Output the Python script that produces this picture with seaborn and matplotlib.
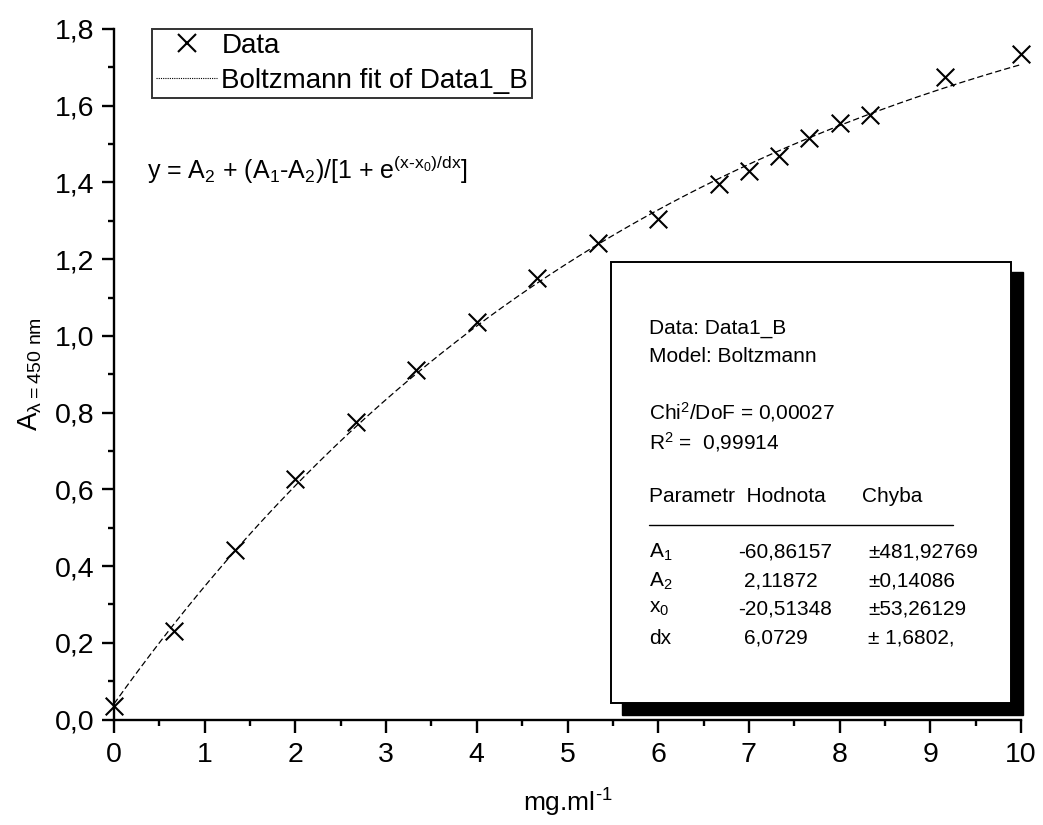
import numpy as np
import pandas as pd
import matplotlib
matplotlib.use("Agg")
import matplotlib.pyplot as plt
from matplotlib.patches import Rectangle
from matplotlib.lines import Line2D
from matplotlib.ticker import MultipleLocator, FuncFormatter
import seaborn as sns

# measured points
conc = [0.0, 0.667, 1.333, 2.0, 2.667, 3.333, 4.0, 4.667, 5.333, 6.0,
        6.667, 7.0, 7.333, 7.667, 8.0, 8.333, 9.167, 10.0]
absorb = [0.035, 0.231, 0.441, 0.626, 0.776, 0.912, 1.036, 1.150, 1.242, 1.306,
          1.395, 1.431, 1.468, 1.517, 1.555, 1.575, 1.675, 1.736]

# Boltzmann fit parameters (as printed in the box)
param_names = [r"A$_1$", r"A$_2$", r"x$_0$", "dx"]
param_values = [-60.86157, 2.11872, -20.51348, 6.0729]
param_value_txt = ["-60,86157", "2,11872", "-20,51348", "6,0729"]
param_error_txt = ["\u00b1481,92769", "\u00b10,14086", "\u00b153,26129", "\u00b1 1,6802,"]

W, H = 1043, 825

sns.set_theme(style="ticks")
plt.rcParams["font.family"] = ["Liberation Sans", "DejaVu Sans"]
plt.rcParams["mathtext.default"] = "regular"
plt.rcParams["text.color"] = "black"
plt.rcParams["axes.labelcolor"] = "black"

fig = plt.figure(figsize=(W / 100, H / 100), dpi=100)
ax = fig.add_axes([114 / W, 1 - 719.5 / H, (1021 - 114) / W, (719.5 - 29) / H])

df = pd.DataFrame({"x": conc, "y": absorb})

A1, A2, x0, dx = param_values
xf = np.linspace(0, 10, 300)
fit = pd.DataFrame({"x": xf, "y": A2 + (A1 - A2) / (1 + np.exp((xf - x0) / dx))})

sns.lineplot(data=fit, x="x", y="y", ax=ax, color="black", linewidth=0.9,
             linestyle=(0, (5, 2.5)), zorder=2)
sns.scatterplot(data=df, x="x", y="y", ax=ax, marker="x", s=160, color="black",
                linewidth=1.5, zorder=3, clip_on=False)

ax.set_xlim(0, 10)
ax.set_ylim(0, 1.8)
ax.xaxis.set_major_locator(MultipleLocator(1))
ax.xaxis.set_minor_locator(MultipleLocator(0.5))
ax.yaxis.set_major_locator(MultipleLocator(0.2))
ax.yaxis.set_minor_locator(MultipleLocator(0.1))
ax.yaxis.set_major_formatter(FuncFormatter(lambda v, p: f"{v:.1f}".replace(".", ",")))
ax.xaxis.set_major_formatter(FuncFormatter(lambda v, p: f"{v:.0f}"))

sns.despine(ax=ax)
for s in ["left", "bottom"]:
    ax.spines[s].set_linewidth(1.7)
    ax.spines[s].set_color("black")
ax.tick_params(which="major", direction="out", length=9, width=1.7, labelsize=20.5,
               colors="black", pad=5)
ax.tick_params(which="minor", direction="out", length=4.5, width=1.7, colors="black")
ax.tick_params(axis="x", which="major", pad=7)

ax.set_xlabel("mg.ml$^{\u20101}$", fontsize=19, labelpad=14)
ax.set_ylabel(r"A$_{\lambda=450\ nm}$", fontsize=20, labelpad=8)

handles = [Line2D([], [], marker="x", linestyle="none", color="black",
                  markersize=13, markeredgewidth=1.5),
           Line2D([], [], linestyle=(0, (1, 1)), color="black", linewidth=0.8)]
leg = ax.legend(handles, ["Data", "Boltzmann fit of Data1_B"], loc="upper left",
                bbox_to_anchor=(38 / 907, 1.0), fontsize=20, frameon=True,
                fancybox=False, borderpad=0.15, handlelength=2.2, handletextpad=0.15,
                labelspacing=0.3, borderaxespad=0)
leg.get_frame().set_edgecolor("black")
leg.get_frame().set_linewidth(1.4)

fig.text(147 / W, 1 - 179 / H,
         "y = A$_2$ + (A$_1$-A$_2$)/[1 + e$^{(x\u2010x_0)/dx}$]",
         fontsize=18, va="baseline", ha="left")

# result box with shadow
fig.add_artist(Rectangle((622 / W, 1 - 715 / H), (1023 - 622) / W, (715 - 272) / H,
                         transform=fig.transFigure, facecolor="black", edgecolor="black",
                         zorder=4))
fig.add_artist(Rectangle((611 / W, 1 - 703 / H), (1011 - 611) / W, (703 - 262) / H,
                         transform=fig.transFigure, facecolor="white", edgecolor="black",
                         linewidth=1.4, zorder=5))

def ftext(px, py, s, **kw):
    fig.text(px / W, 1 - py / H, s, fontsize=15, va="center", ha="left", zorder=6, **kw)

ftext(649, 329, "Data: Data1_B")
ftext(649, 356, "Model: Boltzmann")
ftext(649, 412, r"Chi$^2$/DoF = 0,00027")
ftext(649, 442, r"R$^2$ =  0,99914")
ftext(649, 497, "Parametr  Hodnota")
ftext(862, 497, "Chyba")
fig.add_artist(Line2D([649 / W, 953 / W], [1 - 525 / H, 1 - 525 / H],
                      transform=fig.transFigure, color="black", linewidth=1.0, zorder=6))
rows_y = [552, 581, 609, 638]
for name, vtxt, etxt, ry in zip(param_names, param_value_txt, param_error_txt, rows_y):
    ftext(649, ry, name)
    ftext(738 if vtxt.startswith("-") else 744, ry, vtxt)
    ftext(868, ry, etxt)

fig.savefig("out.png", dpi=100)
